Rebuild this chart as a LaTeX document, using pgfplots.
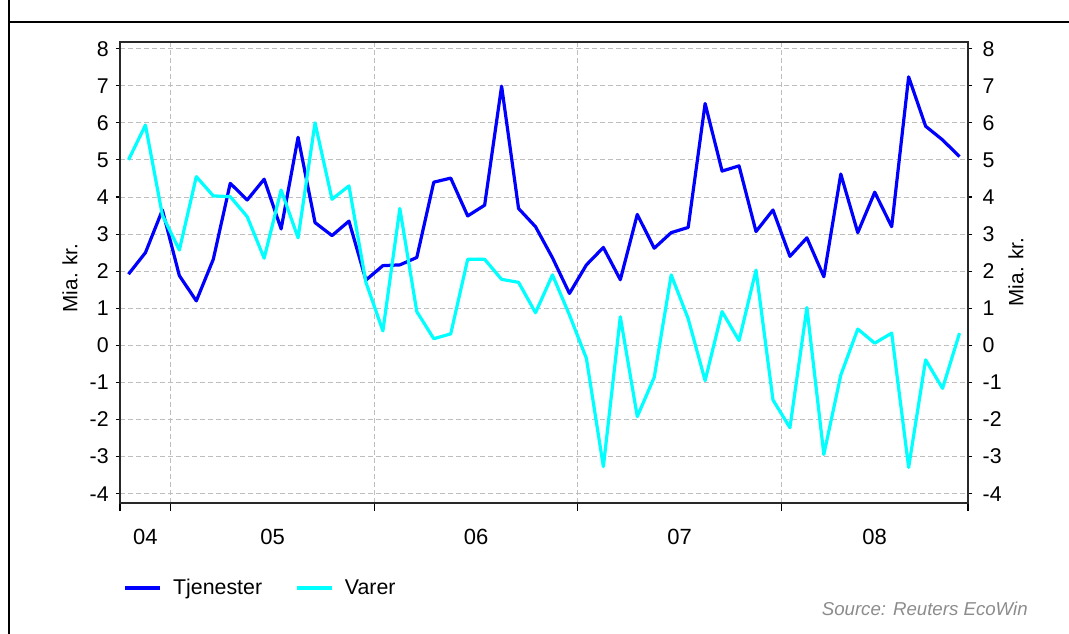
\documentclass[border=0pt]{standalone}
\usepackage{pgfplots}
\pgfplotsset{compat=1.18}
\usepackage{fontspec}
\setmainfont{Liberation Sans}
\definecolor{tj}{RGB}{0,0,255}
\definecolor{va}{RGB}{0,255,255}
\definecolor{gridc}{RGB}{190,190,190}
\definecolor{srcgray}{RGB}{140,140,140}
\definecolor{axc}{RGB}{40,40,40}

\pgfplotstableread{
x tj va
0 1.92 5.00
1 2.50 5.94
2 3.65 3.51
3 1.88 2.57
4 1.20 4.55
5 2.32 4.03
6 4.37 4.01
7 3.92 3.47
8 4.48 2.35
9 3.14 4.19
10 5.61 2.90
11 3.31 6.00
12 2.96 3.94
13 3.35 4.30
14 1.76 1.70
15 2.15 0.39
16 2.17 3.69
17 2.37 0.91
18 4.40 0.18
19 4.51 0.31
20 3.49 2.32
21 3.78 2.32
22 6.99 1.78
23 3.69 1.70
24 3.20 0.88
25 2.36 1.90
26 1.40 0.82
27 2.17 -0.35
28 2.64 -3.27
29 1.77 0.77
30 3.53 -1.92
31 2.62 -0.86
32 3.04 1.90
33 3.18 0.72
34 6.52 -0.95
35 4.70 0.91
36 4.84 0.13
37 3.07 2.03
38 3.65 -1.47
39 2.40 -2.22
40 2.90 1.02
41 1.85 -2.94
42 4.62 -0.80
43 3.04 0.44
44 4.13 0.06
45 3.20 0.33
46 7.24 -3.29
47 5.91 -0.39
48 5.54 -1.16
49 5.09 0.33
}\data

\begin{document}
\begin{tikzpicture}
\useasboundingbox (0pt,0pt) rectangle (801.75pt,475.5pt);
\draw[line width=1.5pt] (6.75pt,0pt) -- (6.75pt,475.5pt);
\draw[line width=1.8pt] (6pt,459pt) -- (801.75pt,459pt);

\pgfplotsset{common/.style={
  scale only axis, width=636pt, height=345.75pt,
  xmin=-0.5, xmax=49.5, ymin=-4.25, ymax=8.18,
  at={(90pt,98.25pt)}, anchor=south west,
  ytick={-4,-3,...,8},
  yticklabels={-4,-3,-2,-1,0,1,2,3,4,5,6,7,8},
  tick label style={font=\fontsize{16}{19}\selectfont},
  tick align=outside,
  major tick length=3pt,
  axis line style={axc, line width=0.9pt},
  tick style={black, line width=0.8pt},
}}

\begin{axis}[common,
  ytick pos=left,
  yticklabel style={xshift=-2pt},
  xtick={1,8.5,20.5,32.5,44},
  xticklabels={04,05,06,07,08},
  xticklabel style={font=\fontsize{16.5}{19}\selectfont, yshift=-13pt},
  major x tick style={draw=none},
  minor xtick={-0.5,2.5,14.5,26.5,38.5,49.5},
  minor tick length=6pt,
  xtick pos=bottom,
  xminorgrids, ymajorgrids,
  grid style={gridc, line width=0.7pt, dash pattern=on 3.5pt off 2.5pt},
  minor grid style={gridc, line width=0.7pt, dash pattern=on 3.5pt off 2.5pt},
  legend columns=2,
  legend style={at={(axis description cs:0.004,-0.1844)}, anchor=west,
    draw=none, fill=none, inner sep=0pt,
    font=\fontsize{16}{19}\selectfont,
    /tikz/every even column/.append style={column sep=23pt}},
  legend image code/.code={\draw[#1, line width=2.3pt] (0pt,0pt) -- (26pt,0pt); \path[draw=none] (0pt,0pt) -- (34pt,0pt);},
]
\addplot[tj, line width=2.4pt, line join=round] table[x=x, y=tj] {\data};
\addlegendentry{Tjenester}
\addplot[va, line width=2.4pt, line join=round] table[x=x, y=va] {\data};
\addlegendentry{Varer}
\end{axis}

\begin{axis}[common,
  axis y line*=right, axis x line=none,
  ytick pos=right, yticklabel pos=right,
  yticklabel style={xshift=4.5pt},
]
\end{axis}

\node[rotate=90, font=\fontsize{15.5}{18}\selectfont, inner sep=0pt] at (52.5pt,267pt) {Mia. kr.};
\node[rotate=90, font=\fontsize{15.5}{18}\selectfont, inner sep=0pt] at (762pt,271.5pt) {Mia. kr.};
\node[anchor=east, inner sep=0pt, text=srcgray, font=\itshape\fontsize{14}{17}\selectfont] at (771pt,18.75pt) {Source: Reuters EcoWin};
\end{tikzpicture}
\end{document}
